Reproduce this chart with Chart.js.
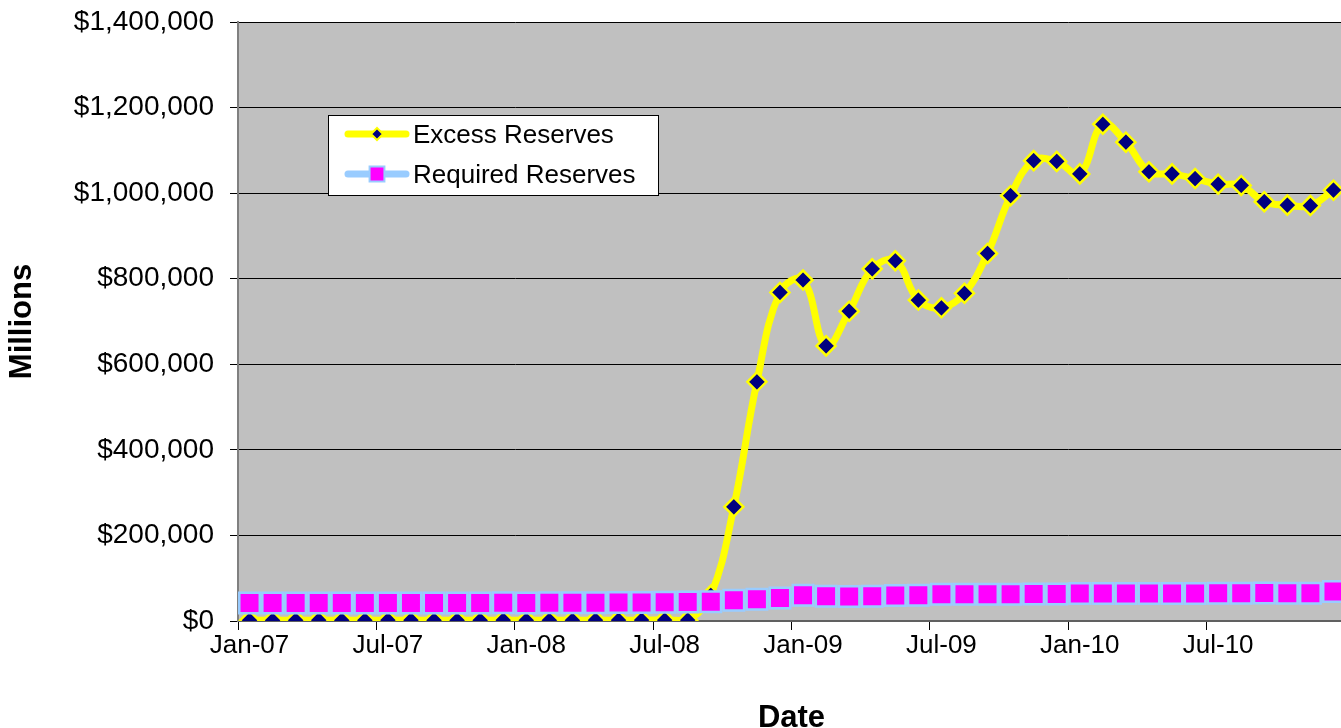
<!DOCTYPE html>
<html>
<head>
<meta charset="utf-8">
<script src="https://cdn.jsdelivr.net/npm/chart.js@4.4.1/dist/chart.umd.min.js"></script>
<style>
html,body{margin:0;padding:0;background:#fff;overflow:hidden;}
#wrap{width:1341px;height:728px;overflow:hidden;position:relative;}
canvas{display:block;}
</style>
</head>
<body>
<div id="wrap"><canvas id="c" width="1362" height="728"></canvas></div>
<script>
// ---- data ----
const months = [
  'Jan-07','Feb-07','Mar-07','Apr-07','May-07','Jun-07','Jul-07','Aug-07','Sep-07','Oct-07','Nov-07','Dec-07',
  'Jan-08','Feb-08','Mar-08','Apr-08','May-08','Jun-08','Jul-08','Aug-08','Sep-08','Oct-08','Nov-08','Dec-08',
  'Jan-09','Feb-09','Mar-09','Apr-09','May-09','Jun-09','Jul-09','Aug-09','Sep-09','Oct-09','Nov-09','Dec-09',
  'Jan-10','Feb-10','Mar-10','Apr-10','May-10','Jun-10','Jul-10','Aug-10','Sep-10','Oct-10','Nov-10','Dec-10'
];
const excessReserves = [
  1600, 1500, 1700, 1800, 1600, 1700, 1900, 1800, 1700, 1500, 1700, 1800,
  1600, 1700, 1600, 1800, 1900, 2000, 2100, 1900, 60000, 267000, 559000, 768000,
  797000, 643000, 724000, 823000, 842000, 750000, 732000, 766000, 859000, 994000, 1076000, 1074000,
  1045000, 1161000, 1119000, 1050000, 1045000, 1034000, 1021000, 1018000, 980000, 972000, 971000, 1007000
];
const requiredReserves = [
  42000, 42000, 41800, 42100, 42300, 42000, 41900, 42200, 42300, 42200, 42000, 42400,
  42300, 42600, 42900, 42700, 43000, 43500, 43700, 44200, 45000, 48500, 51000, 54000,
  60000, 58000, 57000, 58000, 59500, 60000, 62500, 62500, 62500, 62500, 63000, 63000,
  64500, 64500, 64000, 64000, 64500, 64500, 65000, 65000, 65500, 65000, 65000, 69000
];
const seriesNames = ['Excess Reserves', 'Required Reserves'];
const yAxisTitle = 'Millions';
const xAxisTitle = 'Date';

// ---- styling ----
const FONT = "'Liberation Sans', Arial, Helvetica, sans-serif";
Chart.defaults.font.family = FONT;
Chart.defaults.color = '#000';

const plotBg = {
  id: 'plotBg',
  beforeDraw(chart) {
    const {ctx, chartArea: a} = chart;
    ctx.save();
    ctx.fillStyle = '#C0C0C0';
    ctx.fillRect(a.left, a.top, a.right - a.left, a.bottom - a.top);
    ctx.restore();
  }
};

function drawMarker(ctx, style, x, y, r, fill, stroke, bw) {
  ctx.beginPath();
  if (style === 'rectRot') {
    ctx.moveTo(x - r, y); ctx.lineTo(x, y - r); ctx.lineTo(x + r, y); ctx.lineTo(x, y + r);
  } else {
    const s = r * Math.SQRT1_2;
    ctx.rect(x - s, y - s, 2 * s, 2 * s);
  }
  ctx.closePath();
  ctx.fillStyle = fill; ctx.fill();
  ctx.lineWidth = bw; ctx.strokeStyle = stroke; ctx.stroke();
}

const boxLegend = {
  id: 'boxLegend',
  afterDraw(chart) {
    const ctx = chart.ctx;
    const bx = 328, by = 115, bw = 330, bh = 80;
    ctx.save();
    ctx.fillStyle = '#FFFFFF';
    ctx.fillRect(bx, by, bw, bh);
    ctx.lineWidth = 1;
    ctx.strokeStyle = '#000';
    ctx.strokeRect(bx + 0.5, by + 0.5, bw, bh);
    const rows = [by + 19, by + 59];
    const mr = [6, 10.5];
    chart.data.datasets.forEach((ds, i) => {
      const y = rows[i];
      ctx.beginPath();
      ctx.lineCap = 'round';
      ctx.lineWidth = 7;
      ctx.strokeStyle = ds.borderColor;
      ctx.moveTo(348, y); ctx.lineTo(406, y);
      ctx.stroke();
      drawMarker(ctx, ds.pointStyle, 377, y, mr[i], ds.pointBackgroundColor, ds.pointBorderColor, 2);
      ctx.fillStyle = '#000';
      ctx.font = '26px ' + FONT;
      ctx.textAlign = 'left';
      ctx.textBaseline = 'middle';
      ctx.fillText(ds.label, 413, y + 2);
    });
    ctx.restore();
  }
};

new Chart(document.getElementById('c'), {
  type: 'line',
  data: {
    labels: months,
    datasets: [
      {
        label: seriesNames[0],
        data: excessReserves,
        borderColor: '#FFFF00',
        borderWidth: 7,
        tension: 0.4,
        pointStyle: 'rectRot',
        pointRadius: 9.5,
        pointHoverRadius: 9.5,
        pointBackgroundColor: '#000080',
        pointBorderColor: '#FFFF00',
        pointBorderWidth: 2.5,
        order: 2
      },
      {
        label: seriesNames[1],
        data: requiredReserves,
        borderColor: '#99CCFF',
        borderWidth: 5,
        tension: 0.3,
        pointStyle: 'rect',
        pointRadius: 14.5,
        pointHoverRadius: 14.5,
        pointBackgroundColor: '#FF00FF',
        pointBorderColor: '#99CCFF',
        pointBorderWidth: 2.5,
        order: 1
      }
    ]
  },
  options: {
    responsive: false,
    animation: false,
    events: [],
    layout: {padding: {top: 22, left: 0, right: 0, bottom: 0}},
    plugins: {
      legend: {display: false},
      tooltip: {enabled: false}
    },
    scales: {
      x: {
        type: 'category',
        offset: true,
        grid: {
          offset: true,
          drawOnChartArea: false,
          tickLength: 9,
          tickWidth: 1,
          tickColor: (c) => (c.index % 6 === 0 ? '#000' : 'rgba(0,0,0,0)')
        },
        border: {color: '#606060', width: 2},
        ticks: {
          autoSkip: false,
          maxRotation: 0,
          minRotation: 0,
          padding: 0,
          color: '#000',
          font: {size: 26},
          callback(v, i) { return i % 6 === 0 ? this.getLabelForValue(v) : ''; }
        },
        title: {
          display: true,
          text: xAxisTitle,
          color: '#000',
          font: {size: 31, weight: 'bold', lineHeight: 1},
          padding: {top: 0, bottom: -6}
        },
        afterFit(s) { s.height = 107; }
      },
      y: {
        min: 0,
        max: 1400000,
        grid: {color: '#000', lineWidth: 1, tickLength: 8, tickColor: '#000'},
        border: {color: '#808080', width: 2},
        ticks: {
          stepSize: 200000,
          padding: 16,
          color: '#000',
          font: {size: 28, lineHeight: 0.4},
          callback: (v) => '$' + Number(v).toLocaleString('en-US')
        },
        title: {
          display: true,
          text: yAxisTitle,
          color: '#000',
          font: {size: 31, weight: 'bold'},
          padding: {top: 4, bottom: 0}
        },
        afterFit(s) { s.width = 238; }
      }
    }
  },
  plugins: [plotBg, boxLegend]
});
</script>
</body>
</html>
